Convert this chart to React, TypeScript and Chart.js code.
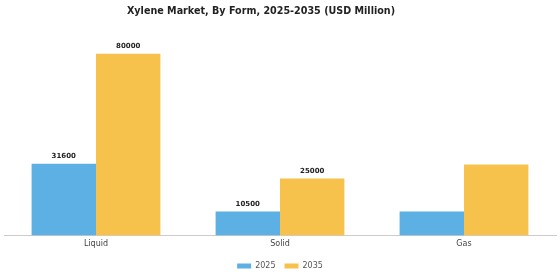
import React, { useEffect, useRef } from "react";
import { Chart, registerables } from "chart.js";

Chart.register(...registerables);

const categories = ["Liquid", "Solid", "Gas"];
const series2025 = [31600, 10500, 10500];
const series2035 = [80000, 25000, 31200];
const showLabels = [true, true, false];
const seriesNames = ["2025", "2035"];
const titleText = "Xylene Market, By Form, 2025-2035 (USD Million)";

const labelPlugin = {
  id: "valueLabels",
  afterDatasetsDraw(chart: any) {
    const ctx = chart.ctx;
    ctx.save();
    ctx.font = "bold 7px 'DejaVu Sans'";
    ctx.fillStyle = "#222";
    ctx.textAlign = "center";
    ctx.textBaseline = "bottom";
    chart.data.datasets.forEach((ds: any, di: number) => {
      const meta = chart.getDatasetMeta(di);
      meta.data.forEach((bar: any, i: number) => {
        if (!showLabels[i]) return;
        ctx.fillText(String(ds.data[i]), bar.x, bar.y - 4);
      });
    });
    ctx.restore();
  },
};

const titlePlugin = {
  id: "customTitle",
  afterDraw(chart: any) {
    const ctx = chart.ctx;
    ctx.save();
    ctx.font = "bold 9.6px 'DejaVu Sans'";
    ctx.fillStyle = "#222";
    ctx.textAlign = "center";
    ctx.textBaseline = "middle";
    ctx.fillText(titleText, 261, 11);
    ctx.restore();
  },
};

export default function App() {
  const ref = useRef<HTMLCanvasElement>(null);
  useEffect(() => {
    const chart = new Chart(ref.current!, {
      type: "bar",
      data: {
        labels: categories,
        datasets: [
          { label: seriesNames[0], data: series2025, backgroundColor: "#5DB0E4", categoryPercentage: 0.7, barPercentage: 1.0 },
          { label: seriesNames[1], data: series2035, backgroundColor: "#F6C24B", categoryPercentage: 0.7, barPercentage: 1.0 },
        ],
      },
      options: {
        animation: false,
        responsive: false,
        layout: { padding: { left: 4, right: 4, top: 31, bottom: 0 } },
        plugins: {
          title: { display: false },
          legend: {
            position: "bottom",
            labels: {
              font: { family: "'DejaVu Sans'", size: 8 },
              color: "#555",
              boxWidth: 14,
              boxHeight: 5,
              padding: 9,
            },
          },
          tooltip: { enabled: false },
        },
        scales: {
          x: {
            grid: { display: false, drawTicks: false, tickLength: 0 },
            border: { color: "#ccc" },
            ticks: { font: { family: "'DejaVu Sans'", size: 8 }, color: "#444", padding: 4 },
          },
          y: {
            display: false,
            min: 0,
            max: 90000,
          },
        },
      },
      plugins: [labelPlugin, titlePlugin],
    });
    return () => chart.destroy();
  }, []);
  return (
    <div style={{ position: "fixed", left: 0, top: 0, width: 560, height: 280, background: "#fff" }}>
      <canvas ref={ref} width={560} height={280} />
    </div>
  );
}
